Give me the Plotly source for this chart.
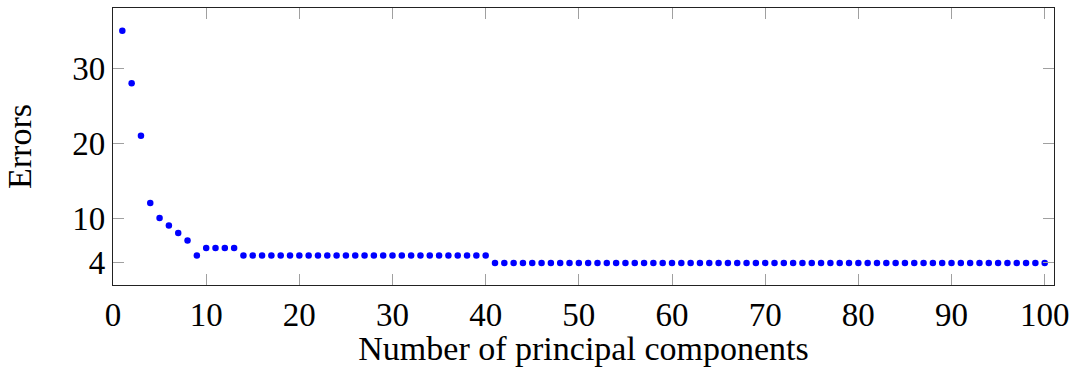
import plotly.graph_objects as go

components = list(range(1, 101))
errors_head = [35, 28, 21, 12, 10, 9, 8, 7, 5, 6, 6, 6, 6]
errors_mid = [5] * 27   # components 14..40
errors_tail = [4] * 60  # components 41..100
errors = errors_head + errors_mid + errors_tail

x_ticks = list(range(0, 101, 10))
y_ticks = [4, 10, 20, 30]

FONT = "Liberation Serif"

fig = go.Figure()
fig.add_trace(go.Scatter(
    x=components, y=errors, mode="markers",
    marker=dict(color="#0000ff", size=6.5, line=dict(width=0)),
    showlegend=False,
))

axis_common = dict(
    showgrid=False, zeroline=False, showline=True, linecolor="#222222", linewidth=1.3,
    mirror="ticks", ticks="inside", ticklen=11, tickwidth=1, tickcolor="#a0a0a0",
    tickfont=dict(family=FONT, size=33, color="#000000"),
)

fig.update_xaxes(
    range=[0, 101], tickvals=x_ticks, ticktext=[str(v) for v in x_ticks],
    title=dict(text="Number of principal components", font=dict(family=FONT, size=34, color="#000"), standoff=5),
    **axis_common,
)
fig.update_yaxes(
    range=[1.05, 38.05], tickvals=y_ticks, ticktext=[str(v) for v in y_ticks],
    title=dict(text="Errors", font=dict(family=FONT, size=34, color="#000"), standoff=30),
    **axis_common,
)

fig.update_layout(
    width=1073, height=367,
    margin=dict(l=113, r=19, t=8, b=82, autoexpand=False),
    paper_bgcolor="white", plot_bgcolor="white",
)

fig.write_html("out.html")
